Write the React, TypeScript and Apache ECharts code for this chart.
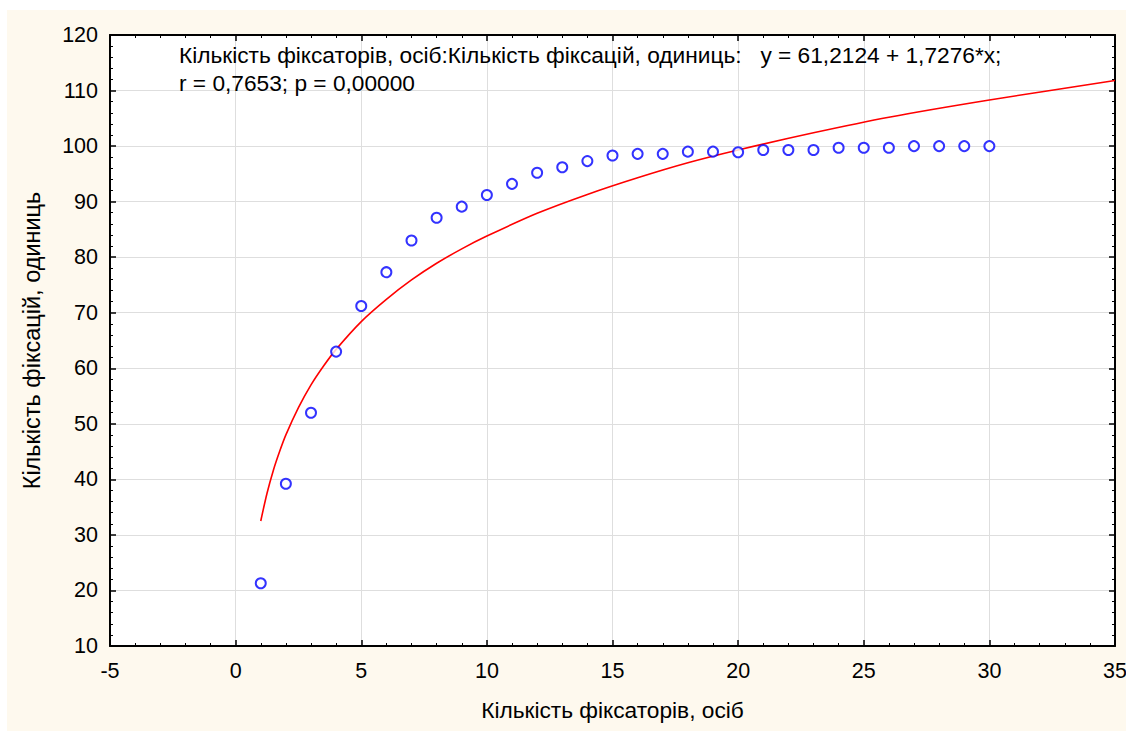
import React, { useEffect, useRef } from "react";
import * as echarts from "echarts";

const pointX = [1, 2, 3, 4, 5, 6, 7, 8, 9, 10, 11, 12, 13, 14, 15, 16, 17, 18, 19, 20, 21, 22, 23, 24, 25, 26, 27, 28, 29, 30];
const pointY = [21.3, 39.2, 52.0, 63.0, 71.2, 77.3, 83.0, 87.1, 89.1, 91.2, 93.2, 95.2, 96.2, 97.3, 98.3, 98.6, 98.6, 99.0, 99.0, 98.9, 99.3, 99.3, 99.3, 99.7, 99.7, 99.7, 100, 100, 100, 100];

const fitX = [1, 1.25, 1.5, 1.75, 2, 2.5, 3, 3.5, 4, 5, 6, 7, 8, 9, 10, 12, 14, 16, 18, 20, 23, 26, 30, 35];
const fitY = [32.5, 37.5, 41.6, 45.0, 48.0, 52.9, 57.0, 60.4, 63.4, 68.4, 72.4, 75.9, 78.9, 81.5, 83.8, 87.9, 91.3, 94.3, 97.0, 99.3, 102.4, 105.2, 108.3, 111.8];

const xTicks = { min: -5, max: 35, interval: 5 };
const yTicks = { min: 10, max: 120, interval: 10 };

const xName = "Кількість фіксаторів, осіб";
const yName = "Кількість фіксацій, одиниць";
const noteLine1 = "Кількість фіксаторів, осіб:Кількість фіксацій, одиниць:   y = 61,2124 + 1,7276*x;";
const noteLine2 = "r = 0,7653; p = 0,00000";

const FONT = "'Liberation Sans', Arial, sans-serif";

export default function App() {
  const ref = useRef<HTMLDivElement>(null);
  useEffect(() => {
    if (!ref.current) return;
    const chart = echarts.init(ref.current, null, { renderer: "svg" });
    const axisCommon = {
      axisLine: { show: true, onZero: false, lineStyle: { color: "#000", width: 2 } },
      axisTick: { show: true, inside: true, length: 6, lineStyle: { color: "#000", width: 1.5 } },
      minorTick: { show: true, splitNumber: 5, length: 3, lineStyle: { color: "#000", width: 1 } },
    };
    chart.setOption({
      animation: false,
      backgroundColor: "#ffffff",
      textStyle: { fontFamily: FONT },
      grid: {
        left: 110,
        right: 11,
        top: 35,
        bottom: 85,
        containLabel: false,
        outerBoundsMode: "none",
      },
      graphic: [
        {
          type: "rect",
          z: -10,
          silent: true,
          shape: { x: 7, y: 10, width: 1125, height: 721 },
          style: { fill: "#FEF9EE" },
        },
        {
          type: "rect",
          z: -9,
          silent: true,
          shape: { x: 110, y: 35, width: 1005, height: 611 },
          style: { fill: "#ffffff" },
        },
        {
          type: "text",
          x: 179,
          y: 43,
          z: 100,
          style: { text: noteLine1, font: `22.7px ${FONT}`, fill: "#000", verticalAlign: "top" },
        },
        {
          type: "text",
          x: 179,
          y: 71,
          z: 100,
          style: { text: noteLine2, font: `22.7px ${FONT}`, fill: "#000", verticalAlign: "top" },
        },
      ],
      xAxis: [
        {
          type: "value",
          position: "bottom",
          min: xTicks.min,
          max: xTicks.max,
          interval: xTicks.interval,
          ...axisCommon,
          axisLabel: { color: "#000", fontSize: 21.5, margin: 14, fontFamily: FONT },
          splitLine: { show: true, lineStyle: { color: "#dedede", width: 1 } },
          name: xName,
          nameLocation: "middle",
          nameGap: 52,
          nameTextStyle: { color: "#000", fontSize: 22.7, fontFamily: FONT },
        },
        {
          type: "value",
          position: "top",
          min: xTicks.min,
          max: xTicks.max,
          interval: xTicks.interval,
          ...axisCommon,
          axisLabel: { show: false },
          splitLine: { show: false },
        },
      ],
      yAxis: [
        {
          type: "value",
          position: "left",
          min: yTicks.min,
          max: yTicks.max,
          interval: yTicks.interval,
          ...axisCommon,
          axisLabel: { color: "#000", fontSize: 21.5, margin: 12, fontFamily: FONT },
          splitLine: { show: true, lineStyle: { color: "#dedede", width: 1 } },
          name: yName,
          nameLocation: "middle",
          nameGap: 66,
          nameTextStyle: { color: "#000", fontSize: 23.5, fontFamily: FONT },
        },
        {
          type: "value",
          position: "right",
          min: yTicks.min,
          max: yTicks.max,
          interval: yTicks.interval,
          ...axisCommon,
          axisLabel: { show: false },
          splitLine: { show: false },
        },
      ],
      series: [
        {
          type: "line",
          data: fitX.map((x, i) => [x, fitY[i]]),
          smooth: 0.3,
          showSymbol: false,
          symbol: "none",
          lineStyle: { color: "#FF0000", width: 1.6 },
          z: 3,
        },
        {
          type: "scatter",
          data: pointX.map((x, i) => [x, pointY[i]]),
          symbol: "emptyCircle",
          symbolSize: 10,
          itemStyle: { color: "#0000FF", borderColor: "#0000FF", borderWidth: 2 },
          z: 4,
        },
      ],
    });
    return () => chart.dispose();
  }, []);
  return (
    <div
      ref={ref}
      style={{ position: "absolute", left: 0, top: 0, width: 1126, height: 731 }}
    />
  );
}
